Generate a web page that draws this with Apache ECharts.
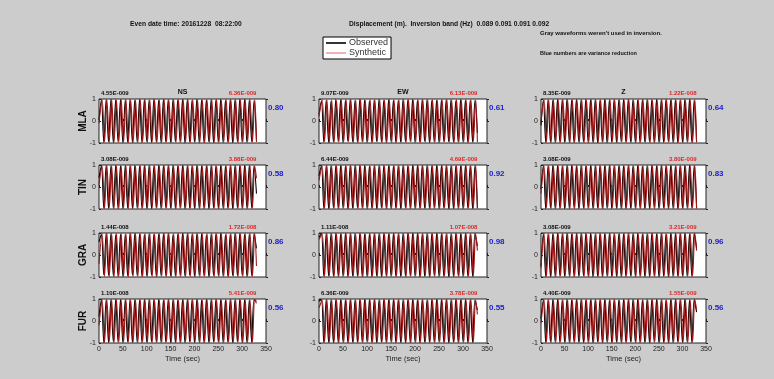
<!DOCTYPE html>
<html>
<head>
<meta charset="utf-8">
<script src="https://cdn.jsdelivr.net/npm/echarts@6/dist/echarts.min.js"></script>
<style>
  html, body { margin: 0; padding: 0; background: #cccccc; }
  #chart-waveforms { width: 774px; height: 379px; }
</style>
</head>
<body>
<div id="chart-waveforms"></div>
<script>
// stations (rows) and components (columns)
const stations = ['MLA', 'TIN', 'GRA', 'FUR']
const comps = ['NS', 'EW', 'Z']
const xTicks = [0, 50, 100, 150, 200, 250, 300, 350]

// max amplitudes (black = observed, red = synthetic) and variance reduction
const obsMax = [
  ['4.55E-009', '9.07E-009', '8.35E-009'],
  ['3.08E-009', '6.44E-009', '3.08E-009'],
  ['1.44E-008', '1.11E-008', '3.08E-009'],
  ['1.10E-008', '6.36E-009', '4.40E-009'],
]
const synMax = [
  ['6.36E-009', '6.13E-009', '1.22E-008'],
  ['3.88E-009', '4.69E-009', '3.80E-009'],
  ['1.72E-008', '1.07E-008', '3.21E-009'],
  ['5.41E-009', '3.78E-009', '1.55E-009'],
]
const varRed = [
  ['0.80', '0.61', '0.64'],
  ['0.58', '0.92', '0.83'],
  ['0.86', '0.98', '0.96'],
  ['0.56', '0.55', '0.56'],
]

// times (sec) of the picked peaks / troughs
const tObs = [0,5,10,15,20,25,30,35,40,45,50,55,60,65,70,75,80,85,90,95,100,105,110,115,120,125,130,135,140,145,150,155,160,165,170,175,180,185,190,195,200,205,210,215,220,225,230,235,240,245,250,255,260,265,270,275,280,285,290,295,300,305,310,315,320,325,330]
const tSyn = [0,6.5,11.5,16.5,21.5,26.5,31.5,36.5,41.5,46.5,51.5,56.5,61.5,66.5,71.5,76.5,81.5,86.5,91.5,96.5,101.5,106.5,111.5,116.5,121.5,126.5,131.5,136.5,141.5,146.5,151.5,156.5,161.5,166.5,171.5,176.5,181.5,186.5,191.5,196.5,201.5,206.5,211.5,216.5,221.5,226.5,231.5,236.5,241.5,246.5,251.5,256.5,261.5,266.5,271.5,276.5,281.5,286.5,291.5,296.5,301.5,306.5,311.5,316.5,321.5,326.5,330]

// normalised peak values
const obsMLA_NS = [.05,.96,-.97,.98,-.95,.97,-.98,.96,-.94,.97, -.99,.95,-.96,.98,-.97,.94,-.95,.97,-.98,.96, -.93,.95,-.97,.99,-.96,.94,-.98,.97,-.95,.96, -.97,.98,-.94,.95,-.96,.97,-.99,.98,-.95,.94, -.96,.97,-.98,.95,-.97,.96,-.94,.98,-.97,.95, -.96,.99,-.97,.94,-.95,.97,-.98,.96,-.95,.97, -.96,.98,-.97,.95,-.94,.92,-.85]
const synMLA_NS = [-.1,.98,-.95,.96,-.97,.99,-.96,.95,-.97,.98, -.96,.97,-.98,.95,-.99,.96,-.97,.98,-.95,.97, -.98,.96,-.95,.97,-.98,.96,-.97,.99,-.96,.95, -.98,.97,-.96,.98,-.95,.99,-.97,.96,-.98,.97, -.95,.98,-.96,.97,-.99,.95,-.97,.96,-.98,.99, -.97,.95,-.96,.98,-.97,.96,-.95,.97,-.99,.98, -.96,.97,-.95,.98,-.96,.97,-.95]
const obsMLA_EW = [.3,.92,-.96,.94,-.97,.9,-.95,.97,-.93,.96, -.98,.94,-.92,.97,-.95,.93,-.96,.98,-.94,.95, -.97,.92,-.96,.95,-.93,.97,-.95,.94,-.98,.96, -.92,.95,-.97,.93,-.96,.98,-.94,.95,-.93,.97, -.96,.94,-.95,.97,-.92,.96,-.98,.93,-.95,.94, -.97,.95,-.93,.96,-.94,.97,-.95,.92,-.96,.98, -.94,.95,-.97,.93,-.96,.94,-.55]
const synMLA_EW = [.2,.97,-.94,.96,-.98,.95,-.97,.93,-.96,.98, -.95,.97,-.94,.96,-.98,.95,-.97,.99,-.96,.94, -.95,.98,-.97,.96,-.94,.97,-.98,.95,-.96,.97, -.99,.94,-.96,.97,-.95,.96,-.98,.97,-.94,.95, -.97,.96,-.98,.95,-.96,.97,-.94,.98,-.97,.95, -.96,.98,-.95,.97,-.96,.94,-.98,.97,-.95,.96, -.97,.95,-.96,.98,-.94,.96,-.97]
const obsMLA_Z = [-.2,.95,-.97,.98,-.96,.94,-.98,.97,-.95,.96, -.97,.99,-.96,.95,-.98,.97,-.94,.96,-.95,.98, -.97,.96,-.95,.97,-.98,.94,-.96,.97,-.99,.95, -.96,.98,-.97,.95,-.94,.97,-.96,.98,-.95,.96, -.97,.95,-.98,.96,-.94,.97,-.95,.96,-.98,.97, -.95,.96,-.97,.98,-.94,.95,-.97,.96,-.98,.95, -.96,.97,-.95,.98,-.96,.95,-.97]
const synMLA_Z = [0,.97,-.96,.95,-.98,.97,-.95,.96,-.97,.98, -.95,.96,-.97,.98,-.96,.95,-.97,.96,-.98,.95, -.96,.97,-.98,.95,-.96,.97,-.95,.98,-.96,.97, -.95,.96,-.98,.97,-.96,.95,-.97,.98,-.96,.95, -.97,.96,-.95,.98,-.97,.96,-.98,.95,-.96,.97, -.98,.96,-.95,.97,-.96,.98,-.97,.95,-.96,.98, -.97,.95,-.96,.97,-.98,.96,-.95]

const obsTIN_NS = [.4,.97,-.96,.98,-.97,.95,-.96,.98,-.97,.96, -.98,.97,-.95,.96,-.97,.98,-.96,.95,-.97,.98, -.96,.97,-.98,.95,-.96,.97,-.98,.96,-.95,.97, -.96,.98,-.97,.95,-.96,.98,-.97,.96,-.95,.97, -.98,.96,-.97,.95,-.98,.96,-.97,.98,-.95,.96, -.97,.98,-.96,.95,-.97,.96,-.98,.97,-.95,.96, -.97,.98,-.96,.97,-.95,.96,-.3]
const synTIN_NS = [.1,.96,-.98,.97,-.95,.98,-.97,.96,-.98,.95, -.97,.96,-.98,.97,-.95,.96,-.98,.97,-.96,.95, -.98,.97,-.96,.98,-.95,.97,-.96,.98,-.97,.95, -.96,.97,-.98,.96,-.95,.97,-.98,.96,-.97,.95, -.96,.98,-.97,.96,-.95,.98,-.96,.97,-.98,.95, -.96,.97,-.98,.96,-.95,.97,-.96,.98,-.97,.96, -.95,.97,-.98,.96,-.97,.95,.4]
const obsTIN_EW = [.5,.98,-.97,.96,-.98,.97,-.95,.96,-.98,.97, -.96,.95,-.98,.97,-.96,.98,-.95,.97,-.96,.98, -.97,.95,-.96,.98,-.97,.96,-.95,.98,-.97,.96, -.98,.95,-.97,.96,-.98,.97,-.95,.96,-.98,.97, -.96,.98,-.95,.97,-.96,.98,-.97,.95,-.96,.98, -.97,.96,-.95,.98,-.97,.96,-.98,.95,-.97,.96, -.98,.97,-.95,.96,-.98,.97,-.96]
const synTIN_EW = [.3,.96,-.97,.98,-.96,.95,-.97,.98,-.96,.97, -.95,.98,-.97,.96,-.95,.97,-.98,.96,-.97,.95, -.98,.96,-.97,.95,-.98,.97,-.96,.95,-.98,.97, -.96,.98,-.95,.97,-.96,.98,-.97,.95,-.96,.98, -.97,.96,-.98,.95,-.97,.96,-.98,.97,-.95,.96, -.98,.97,-.96,.95,-.98,.97,-.96,.98,-.95,.97, -.96,.98,-.97,.95,-.96,.98,-.97]
const obsTIN_Z = [-.1,.97,-.98,.96,-.95,.97,-.98,.96,-.97,.95, -.98,.96,-.97,.98,-.95,.96,-.97,.98,-.96,.95, -.97,.98,-.96,.97,-.95,.98,-.97,.96,-.95,.97, -.98,.96,-.97,.95,-.98,.96,-.97,.98,-.96,.95, -.97,.98,-.96,.95,-.97,.96,-.98,.97,-.95,.96, -.98,.97,-.95,.96,-.98,.97,-.96,.95,-.97,.98, -.96,.97,-.95,.98,-.96,.97,-.95]
const synTIN_Z = [-.3,.95,-.96,.98,-.97,.96,-.95,.98,-.96,.97, -.95,.98,-.96,.97,-.98,.95,-.96,.97,-.98,.96, -.95,.97,-.98,.96,-.97,.95,-.98,.97,-.96,.98, -.95,.97,-.96,.98,-.97,.95,-.96,.98,-.97,.96, -.95,.97,-.98,.96,-.97,.95,-.96,.98,-.97,.96, -.95,.98,-.97,.96,-.95,.98,-.97,.96,-.98,.95, -.97,.96,-.98,.97,-.95,.96,-.98]

const obsGRA_NS = [.6,.95,-.9,.97,-.93,.96,-.95,.92,-.97,.94, -.96,.93,-.95,.97,-.92,.96,-.94,.95,-.97,.93, -.95,.96,-.92,.94,-.97,.95,-.93,.96,-.94,.97, -.95,.92,-.96,.94,-.93,.97,-.95,.96,-.92,.94, -.97,.95,-.93,.96,-.94,.92,-.97,.95,-.93,.96, -.94,.97,-.95,.92,-.96,.94,-.93,.97,-.95,.96, -.92,.94,-.97,.95,-.93,.96,.3]
const synGRA_NS = [-.4,.98,-.97,.99,-.98,.97,-.99,.98,-.97,.99, -.98,.97,-.99,.98,-.97,.99,-.98,.97,-.99,.98, -.97,.99,-.98,.97,-.99,.98,-.97,.99,-.98,.97, -.99,.98,-.97,.99,-.98,.97,-.99,.98,-.97,.99, -.98,.97,-.99,.98,-.97,.99,-.98,.97,-.99,.98, -.97,.99,-.98,.97,-.99,.98,-.97,.99,-.98,.97, -.99,.98,-.97,.99,-.98,.97,-.5]
const obsGRA_EW = [.8,.97,-.96,.98,-.95,.97,-.96,.98,-.97,.95, -.96,.98,-.97,.96,-.95,.98,-.96,.97,-.98,.95, -.97,.96,-.98,.97,-.95,.96,-.98,.97,-.96,.95, -.97,.98,-.96,.95,-.97,.98,-.96,.97,-.95,.98, -.96,.97,-.98,.95,-.96,.97,-.98,.96,-.95,.97, -.98,.96,-.97,.95,-.98,.96,-.97,.98,-.95,.96, -.97,.98,-.96,.95,-.97,.98,.4]
const synGRA_EW = [.7,.96,-.97,.98,-.96,.95,-.98,.97,-.96,.98, -.95,.97,-.96,.98,-.97,.95,-.96,.98,-.97,.96, -.98,.95,-.97,.96,-.98,.97,-.95,.98,-.96,.97, -.95,.96,-.98,.97,-.96,.95,-.98,.97,-.96,.98, -.95,.96,-.97,.98,-.96,.95,-.97,.98,-.96,.97, -.95,.98,-.96,.97,-.98,.95,-.96,.97,-.98,.96, -.95,.97,-.98,.96,-.97,.95,.2]
const obsGRA_Z = [-.5,.96,-.97,.95,-.98,.96,-.97,.98,-.95,.96, -.97,.98,-.96,.95,-.97,.98,-.96,.97,-.95,.98, -.96,.97,-.98,.95,-.96,.97,-.98,.96,-.95,.97, -.98,.96,-.97,.95,-.98,.96,-.97,.98,-.95,.96, -.97,.98,-.96,.95,-.97,.96,-.98,.97,-.95,.96, -.98,.97,-.96,.95,-.98,.97,-.96,.98,-.95,.97, -.96,.98,-.97,.95,-.96,.98,.3]
const synGRA_Z = [-.6,.97,-.98,.96,-.97,.95,-.98,.97,-.96,.98, -.95,.97,-.96,.98,-.97,.96,-.95,.98,-.97,.96, -.98,.95,-.97,.96,-.98,.97,-.95,.96,-.98,.97, -.96,.95,-.98,.97,-.96,.98,-.95,.97,-.96,.98, -.97,.95,-.96,.98,-.97,.96,-.95,.98,-.97,.96, -.98,.97,-.95,.96,-.98,.97,-.96,.95,-.97,.98, -.96,.97,-.95,.98,-.96,.97,.2]

const obsFUR_NS = [.2,.98,-.97,.96,-.98,.97,-.95,.98,-.96,.97, -.98,.96,-.95,.97,-.98,.96,-.97,.95,-.98,.97, -.96,.98,-.95,.97,-.96,.98,-.97,.95,-.96,.98, -.97,.96,-.98,.95,-.97,.96,-.98,.97,-.95,.96, -.98,.97,-.96,.95,-.98,.97,-.96,.98,-.95,.97, -.96,.98,-.97,.95,-.96,.98,-.97,.96,-.95,.98, -.97,.96,-.98,.95,-.97,.96,.9]
const synFUR_NS = [-.2,.96,-.98,.97,-.95,.96,-.98,.97,-.96,.95, -.97,.98,-.96,.95,-.97,.98,-.96,.97,-.95,.98, -.97,.96,-.98,.95,-.97,.96,-.98,.97,-.95,.96, -.98,.97,-.96,.95,-.98,.97,-.96,.98,-.95,.97, -.96,.98,-.97,.95,-.96,.98,-.97,.96,-.95,.98, -.97,.96,-.98,.95,-.97,.96,-.98,.97,-.95,.96, -.98,.97,-.96,.95,-.98,.97,.8]
const obsFUR_EW = [.9,.97,-.98,.96,-.97,.95,-.98,.96,-.97,.98, -.95,.96,-.97,.98,-.96,.95,-.97,.98,-.96,.97, -.95,.98,-.96,.97,-.98,.95,-.96,.97,-.98,.96, -.95,.97,-.98,.96,-.97,.95,-.98,.96,-.97,.98, -.95,.96,-.97,.98,-.96,.95,-.97,.98,-.96,.97, -.95,.98,-.96,.97,-.98,.95,-.96,.97,-.98,.96, -.95,.97,-.98,.96,-.97,.95,.5]
const synFUR_EW = [.6,.95,-.96,.98,-.97,.96,-.95,.98,-.97,.96, -.98,.95,-.97,.96,-.98,.97,-.95,.96,-.98,.97, -.96,.95,-.98,.97,-.96,.98,-.95,.97,-.96,.98, -.97,.95,-.96,.98,-.97,.96,-.95,.98,-.97,.96, -.98,.95,-.97,.96,-.98,.97,-.95,.96,-.98,.97, -.96,.95,-.98,.97,-.96,.98,-.95,.97,-.96,.98, -.97,.95,-.96,.98,-.97,.96,.3]
const obsFUR_Z = [.1,.96,-.97,.98,-.95,.97,-.96,.98,-.97,.95, -.96,.98,-.97,.96,-.95,.98,-.96,.97,-.98,.95, -.97,.96,-.98,.97,-.95,.96,-.98,.97,-.96,.95, -.97,.98,-.96,.95,-.97,.98,-.96,.97,-.95,.98, -.96,.97,-.98,.95,-.96,.97,-.98,.96,-.95,.97, -.98,.96,-.97,.95,-.98,.96,-.97,.98,-.95,.96, -.97,.98,-.96,.95,-.97,.98,.4]
const synFUR_Z = [-.1,.97,-.96,.95,-.98,.96,-.97,.98,-.95,.96, -.97,.98,-.96,.95,-.97,.98,-.96,.97,-.95,.98, -.96,.97,-.98,.95,-.96,.97,-.98,.96,-.95,.97, -.98,.96,-.97,.95,-.98,.96,-.97,.98,-.95,.96, -.97,.98,-.96,.95,-.97,.96,-.98,.97,-.95,.96, -.98,.97,-.96,.95,-.98,.97,-.96,.98,-.95,.97, -.96,.98,-.97,.95,-.96,.98,.5]

const obsData = [
  [obsMLA_NS, obsMLA_EW, obsMLA_Z],
  [obsTIN_NS, obsTIN_EW, obsTIN_Z],
  [obsGRA_NS, obsGRA_EW, obsGRA_Z],
  [obsFUR_NS, obsFUR_EW, obsFUR_Z],
]
const synData = [
  [synMLA_NS, synMLA_EW, synMLA_Z],
  [synTIN_NS, synTIN_EW, synTIN_Z],
  [synGRA_NS, synGRA_EW, synGRA_Z],
  [synFUR_NS, synFUR_EW, synFUR_Z],
]

// panel layout (px)
const colLeft = [99, 319, 541]
const colWidth = [167, 168, 165]
const rowTop = [99, 165, 233, 299]
const rowHeight = 44
const FONT = "'Liberation Sans', Arial, sans-serif"

const pairs = (ts, vs) => vs.map((v, i) => [ts[i], v])

const chartDom = document.getElementById('chart-waveforms')
const myChart = echarts.init(chartDom, null, { renderer: 'canvas' })

const grid = []
const xAxis = []
const yAxis = []
const series = []
const texts = []

stations.forEach((st, r) => {
  comps.forEach((cp, c) => {
    const p = r * 3 + c
    const isBottom = r === stations.length - 1
    grid.push({
      left: colLeft[c],
      top: rowTop[r],
      width: colWidth[c],
      height: rowHeight,
      show: true,
      backgroundColor: '#ffffff',
      borderColor: '#222',
      borderWidth: 1,
    })
    xAxis.push({
      type: 'value',
      gridIndex: p,
      min: 0,
      max: 350,
      interval: 50,
      axisLine: { show: false },
      axisTick: { show: true, inside: true, length: 2, lineStyle: { color: '#222' } },
      splitLine: { show: false },
      axisLabel: { show: isBottom, fontSize: 7, color: '#222', margin: 3, fontFamily: FONT },
      name: isBottom ? 'Time (sec)' : '',
      nameLocation: 'middle',
      nameGap: 12,
      nameTextStyle: { fontSize: 7.5, color: '#222', fontFamily: FONT },
    })
    yAxis.push({
      type: 'value',
      gridIndex: p,
      min: -1,
      max: 1,
      interval: 1,
      axisLine: { show: false },
      axisTick: { show: true, inside: true, length: 2, lineStyle: { color: '#222' } },
      splitLine: { show: false },
      axisLabel: { fontSize: 7, color: '#222', margin: 3, fontFamily: FONT },
    })
    yAxis.push({
      type: 'value',
      gridIndex: p,
      position: 'right',
      min: -1,
      max: 1,
      interval: 1,
      axisLine: { show: false },
      axisTick: { show: true, inside: false, length: 2, lineStyle: { color: '#222' } },
      splitLine: { show: false },
      axisLabel: { show: false },
    })
    series.push({
      name: 'Observed',
      type: 'line',
      xAxisIndex: p,
      yAxisIndex: p * 2,
      data: pairs(tObs, obsData[r][c]),
      showSymbol: false,
      smooth: 0.35,
      silent: true,
      lineStyle: { color: '#000', width: 1.1 },
      itemStyle: { color: '#000' },
    })
    series.push({
      name: 'Synthetic',
      type: 'line',
      xAxisIndex: p,
      yAxisIndex: p * 2,
      data: pairs(tSyn, synData[r][c]),
      showSymbol: false,
      smooth: 0.35,
      silent: true,
      lineStyle: { color: '#a01515', width: 1.1 },
      itemStyle: { color: '#a01515' },
    })

    const x330 = colLeft[c] + (330 / 350) * colWidth[c]
    texts.push({ type: 'text', left: colLeft[c] + 2, top: rowTop[r] - 9,
      style: { text: obsMax[r][c], fill: '#111', font: 'bold 6px ' + FONT } })
    texts.push({ type: 'text', right: 774 - x330, top: rowTop[r] - 9,
      style: { text: synMax[r][c], fill: '#e02828', font: 'bold 6px ' + FONT } })
    texts.push({ type: 'text', left: colLeft[c] + colWidth[c] + 2, top: rowTop[r] + 5,
      style: { text: varRed[r][c], fill: '#2020d0', font: 'bold 8px ' + FONT } })
    if (r === 0) {
      texts.push({ type: 'text', x: colLeft[c] + colWidth[c] / 2, y: rowTop[r] - 7,
        style: { text: cp, fill: '#111', font: 'bold 7px ' + FONT, align: 'center', verticalAlign: 'middle' } })
    }
  })
  texts.push({ type: 'text', x: 83, y: rowTop[r] + rowHeight / 2, rotation: Math.PI / 2,
    style: { text: st, fill: '#111', font: 'bold 10px ' + FONT, align: 'center', verticalAlign: 'middle' } })
})

// header notes
texts.push({ type: 'text', x: 130, y: 24, scaleX: 0.86,
  style: { text: 'Even date time: 20161228  08:22:00', fill: '#111', font: 'bold 7.8px ' + FONT, verticalAlign: 'middle' } })
texts.push({ type: 'text', x: 349, y: 24, scaleX: 0.86,
  style: { text: 'Displacement (m).  Inversion band (Hz)  0.089 0.091 0.091 0.092', fill: '#111', font: 'bold 7.8px ' + FONT, verticalAlign: 'middle' } })
texts.push({ type: 'text', x: 540, y: 33,
  style: { text: "Gray waveforms weren't used in inversion.", fill: '#111', font: 'bold 6px ' + FONT, verticalAlign: 'middle' } })
texts.push({ type: 'text', x: 540, y: 53,
  style: { text: 'Blue numbers are variance reduction', fill: '#111', font: 'bold 5.5px ' + FONT, verticalAlign: 'middle' } })

const option = {
  backgroundColor: '#cccccc',
  animation: false,
  legend: {
    data: [
      { name: 'Observed', itemStyle: { color: '#333' } },
      { name: 'Synthetic', itemStyle: { color: '#f0b4b4' } },
    ],
    left: 323,
    top: 37,
    orient: 'vertical',
    backgroundColor: '#fff',
    borderColor: '#000',
    borderWidth: 1,
    borderRadius: 0,
    padding: [1, 3, 1, 3],
    itemGap: 0,
    itemWidth: 20,
    itemHeight: 2,
    icon: 'rect',
    selectedMode: false,
    textStyle: { fontSize: 9, lineHeight: 10, color: '#333', fontFamily: FONT, padding: [0, 0, 0, -2] },
  },
  grid,
  xAxis,
  yAxis,
  series,
  graphic: texts,
}
option && myChart.setOption(option)
</script>
</body>
</html>
